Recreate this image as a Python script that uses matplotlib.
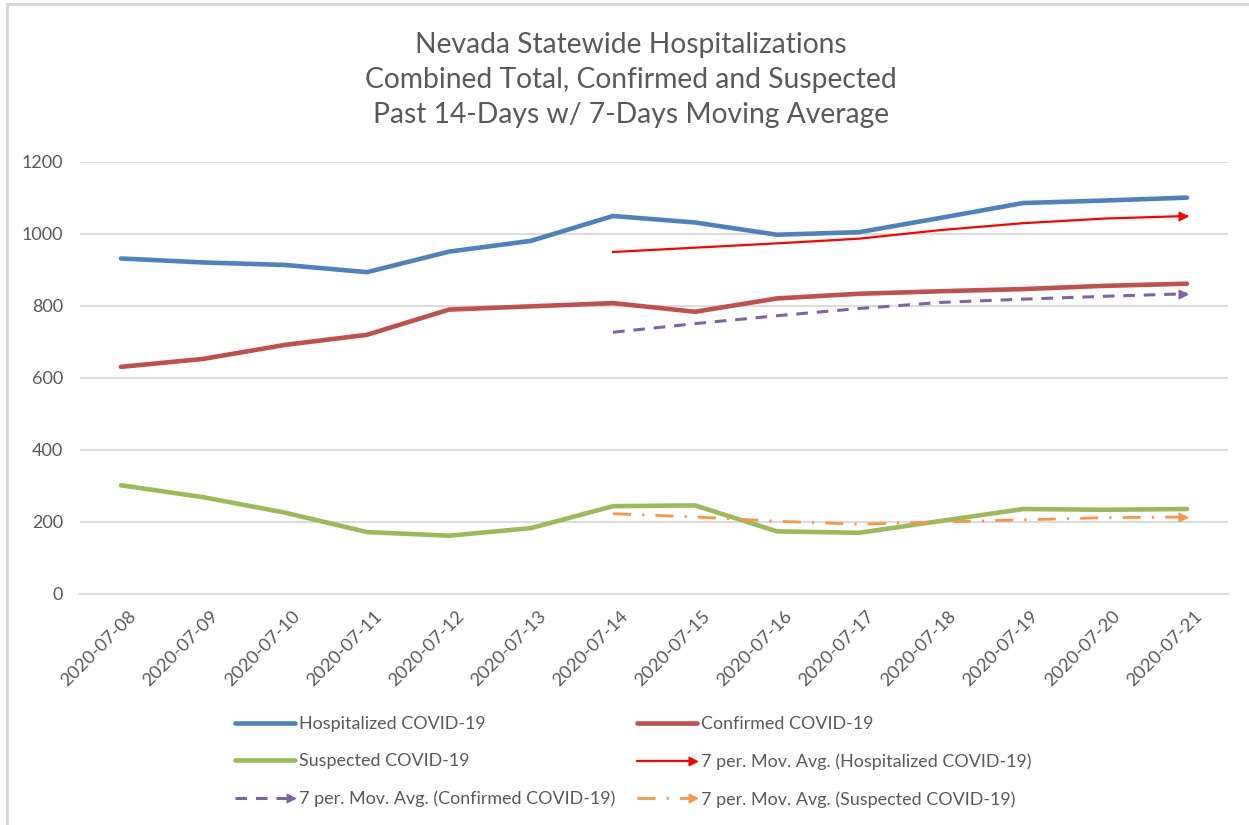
import matplotlib
matplotlib.use("Agg")
import matplotlib.pyplot as plt
import matplotlib.transforms as mtransforms
from matplotlib.lines import Line2D
from matplotlib.path import Path
from matplotlib.markers import MarkerStyle
from matplotlib.legend_handler import HandlerBase

plt.rcParams['font.family'] = ['Lato', 'DejaVu Sans']

dates = ["2020-07-08", "2020-07-09", "2020-07-10", "2020-07-11", "2020-07-12",
         "2020-07-13", "2020-07-14", "2020-07-15", "2020-07-16", "2020-07-17",
         "2020-07-18", "2020-07-19", "2020-07-20", "2020-07-21"]
hospitalized = [932, 921, 914, 894, 951, 981, 1050, 1032, 998, 1005, 1045, 1086, 1093, 1101]
confirmed = [631, 653, 692, 720, 790, 799, 808, 784, 821, 834, 841, 847, 856, 862]
suspected = [302, 269, 226, 172, 162, 183, 244, 246, 174, 170, 203, 236, 234, 236]
# 7-period moving averages (start at 7th date)
ma_hosp = [950, 962, 974, 987, 1011, 1030, 1043, 1050]
ma_conf = [727, 751, 773, 793, 810, 819, 827, 834]
ma_susp = [223, 214, 202, 194, 200, 206, 212, 214]

W, H = 1249, 825
fig = plt.figure(figsize=(W / 100, H / 100), dpi=100)
ax = fig.add_axes([80 / W, 1 - 594 / H, (1228 - 80) / W, (594 - 162) / H])

x = list(range(len(dates)))
xm = x[6:]

# arrow-head marker with tip at the data point
arrow = MarkerStyle(Path([(0, 0), (-1, 0.5), (-1, -0.5), (0, 0)],
                         [Path.MOVETO, Path.LINETO, Path.LINETO, Path.CLOSEPOLY]))

C_H, C_C, C_S = "#4F81BD", "#C0504D", "#9BBB59"
C_MH, C_MC, C_MS = "#FF0000", "#8064A2", "#F79646"

ax.plot(x, hospitalized, color=C_H, lw=3.3, solid_capstyle='round', zorder=3)
ax.plot(x, confirmed, color=C_C, lw=3.3, solid_capstyle='round', zorder=3)
ax.plot(x, suspected, color=C_S, lw=3.3, solid_capstyle='round', zorder=3)
ax.plot(xm, ma_hosp, color=C_MH, lw=1.6, zorder=4)
ax.plot(xm[-1:], ma_hosp[-1:], ls='none', marker=arrow, ms=12, color=C_MH, zorder=4)
ax.plot(xm, ma_conf, color=C_MC, lw=2.2, dashes=(3.8, 2.9), zorder=4)
ax.plot(xm[-1:], ma_conf[-1:], ls='none', marker=arrow, ms=12, color=C_MC, zorder=4)
ax.plot(xm, ma_susp, color=C_MS, lw=2.0, dashes=(6.5, 4, 0.8, 4), zorder=4)
ax.plot(xm[-1:], ma_susp[-1:], ls='none', marker=arrow, ms=12, color=C_MS, zorder=4)

ax.set_xlim(-0.5, len(dates) - 0.5)
ax.set_ylim(0, 1200)
ax.set_yticks(range(0, 1201, 200))
ax.set_xticks(x)
ax.set_xticklabels(dates, rotation=45, ha='right', va='top', rotation_mode='anchor',
                   fontsize=13.2)
ax.tick_params(axis='both', length=0, colors='#595959')
ax.tick_params(axis='y', pad=12, labelsize=13)
ax.tick_params(axis='x', pad=10)
ax.grid(axis='y', color='#D9D9D9', lw=1.3)
ax.set_axisbelow(True)
for s in ['top', 'right', 'left']:
    ax.spines[s].set_visible(False)
ax.spines['bottom'].set_color('#D9D9D9')
ax.spines['bottom'].set_linewidth(1.3)

# shift x labels slightly right like the reference
offset = mtransforms.ScaledTranslation(7 / 100, 0, fig.dpi_scale_trans)
for lbl in ax.get_xticklabels():
    lbl.set_transform(lbl.get_transform() + offset)

# title
fig.text(631 / W, 1 - 80 / H,
         "Nevada Statewide Hospitalizations\nCombined Total, Confirmed and Suspected\nPast 14-Days w/ 7-Days Moving Average",
         ha='center', va='center', fontsize=20.3, color='#595959', linespacing=1.45)

# border
fig.add_artist(Line2D([7 / W, 7 / W], [0, 1 - 4 / H], color='#D9D9D9', lw=2.2))
fig.add_artist(Line2D([7 / W, 1], [1 - 4 / H, 1 - 4 / H], color='#D9D9D9', lw=2.2))


class ArrowLineHandler(HandlerBase):
    def __init__(self, color, lw, dashes=None, arrow_marker=False):
        super().__init__()
        self.color, self.lw, self.dashes, self.arrow_marker = color, lw, dashes, arrow_marker

    def create_artists(self, legend, orig_handle, xdescent, ydescent, width, height, fontsize, trans):
        y = height / 2 - ydescent
        x0, x1 = -xdescent, width - xdescent
        kw = dict(color=self.color, lw=self.lw, transform=trans)
        if self.dashes:
            kw['dashes'] = self.dashes
        else:
            kw['solid_capstyle'] = 'round'
        arts = [Line2D([x0, x1 - (6 if self.arrow_marker else 0)], [y, y], **kw)]
        if self.arrow_marker:
            arts.append(Line2D([x1], [y], ls='none', marker=arrow, ms=12,
                               color=self.color, transform=trans))
        return arts


labels = ["Hospitalized COVID-19", "Confirmed COVID-19", "Suspected COVID-19",
          "7 per. Mov. Avg. (Hospitalized COVID-19)", "7 per. Mov. Avg. (Confirmed COVID-19)",
          "7 per. Mov. Avg. (Suspected COVID-19)"]
hand = [object() for _ in range(6)]
hmap = {
    hand[0]: ArrowLineHandler(C_H, 3.3),
    hand[1]: ArrowLineHandler(C_C, 3.3),
    hand[2]: ArrowLineHandler(C_S, 3.3),
    hand[3]: ArrowLineHandler(C_MH, 1.6, arrow_marker=True),
    hand[4]: ArrowLineHandler(C_MC, 2.2, dashes=(3.8, 2.9), arrow_marker=True),
    hand[5]: ArrowLineHandler(C_MS, 2.0, dashes=(6.5, 4, 0.8, 4), arrow_marker=True),
}

fs = 12.9
fpx = fs * 100 / 72
common = dict(frameon=False, fontsize=fs, handlelength=60 / fpx, handletextpad=4 / fpx,
              labelspacing=(39 - fpx) / fpx, borderpad=0, borderaxespad=0,
              labelcolor='#595959', handler_map=hmap, loc='upper left')
col1 = [0, 2, 4]
col2 = [1, 3, 5]
top = 1 - (727 - fpx * 0.6) / H
leg1 = fig.legend([hand[i] for i in col1], [labels[i] for i in col1],
                  bbox_to_anchor=(235 / W, top), **common)
leg2 = fig.legend([hand[i] for i in col2], [labels[i] for i in col2],
                  bbox_to_anchor=(637 / W, top), **common)

fig.savefig("out.png", dpi=100, facecolor='white')
